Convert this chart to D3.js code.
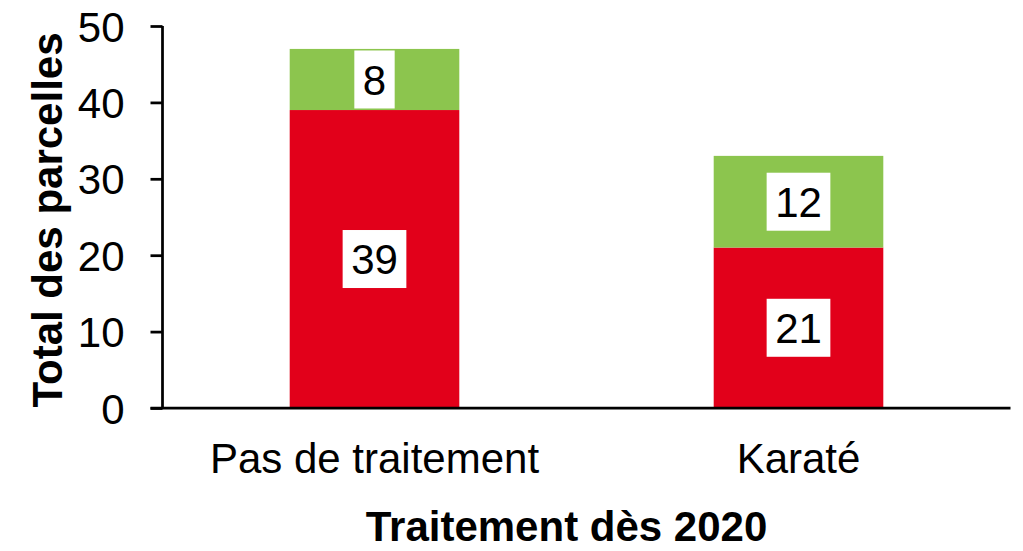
<!DOCTYPE html>
<html>
<head>
<meta charset="utf-8">
<script src="https://cdn.jsdelivr.net/npm/d3@7"></script>
<style>
  body { margin: 0; background: #fff; }
  text { font-family: "Liberation Sans", Arial, sans-serif; fill: #000; }
</style>
</head>
<body>
<script>
const categories = ['Pas de traitement', 'Karaté'];
const seriesNames = ['Rouge', 'Vert'];
const redValues = [39, 21];
const greenValues = [8, 12];
const yTicks = [0, 10, 20, 30, 40, 50];
const colors = ['#e2001a', '#8cc54e'];

const width = 1023, height = 551;
const mLeft = 162.5, mRight = 1010.5, mTop = 26, mBottom = 408;

const svg = d3.select('body')
  .append('svg')
  .attr('width', width)
  .attr('height', height);

const rows = categories.map((c, i) => ({ cat: c, Rouge: redValues[i], Vert: greenValues[i] }));
const stacked = d3.stack().keys(seriesNames)(rows);

const x = d3.scaleBand()
  .domain(categories)
  .range([mLeft, mRight])
  .paddingInner(0.6)
  .paddingOuter(0.3);

const y = d3.scaleLinear()
  .domain([0, 50])
  .range([mBottom, mTop]);

// bars
const layers = svg.selectAll('g.layer')
  .data(stacked)
  .enter().append('g')
  .attr('class', 'layer')
  .style('fill', (d, i) => colors[i]);

layers.selectAll('rect')
  .data(d => d)
  .enter().append('rect')
  .attr('x', d => x(d.data.cat))
  .attr('y', d => y(d[1]))
  .attr('width', x.bandwidth())
  .attr('height', d => y(d[0]) - y(d[1]));

// value labels in white boxes
const labelSize = 42;
stacked.forEach(layer => {
  layer.forEach(d => {
    const val = d[1] - d[0];
    const cx = x(d.data.cat) + x.bandwidth() / 2;
    const cy = (y(d[0]) + y(d[1])) / 2;
    const g = svg.append('g');
    const t = g.append('text')
      .attr('x', cx)
      .attr('y', cy + labelSize * 0.36)
      .attr('text-anchor', 'middle')
      .style('font-size', labelSize + 'px')
      .text(val);
    const w = t.node().getComputedTextLength() + 17;
    g.insert('rect', 'text')
      .attr('x', cx - w / 2)
      .attr('y', cy - 29)
      .attr('width', w)
      .attr('height', 58)
      .style('fill', '#fff');
  });
});

// y axis
const yAxis = svg.append('g')
  .attr('transform', `translate(${mLeft},0)`)
  .call(d3.axisLeft(y).tickValues(yTicks).tickSize(12).tickPadding(26));
yAxis.select('.domain').attr('d', `M0,${mTop}V${mBottom}`);
yAxis.selectAll('line, path').style('stroke', '#000').style('stroke-width', 2.75);
yAxis.selectAll('text')
  .style('font-size', '42px')
  .style('font-family', '"Liberation Sans", Arial, sans-serif')
  .attr('dy', '0.36em');

// x axis
const xAxis = svg.append('g')
  .attr('transform', `translate(0,${mBottom})`)
  .call(d3.axisBottom(x).tickSize(0).tickPadding(0));
xAxis.select('.domain').attr('d', `M${mLeft - 12},0H${mRight}`)
  .style('stroke', '#000').style('stroke-width', 2.75);
xAxis.selectAll('text')
  .attr('y', 65)
  .attr('dy', 0)
  .style('font-size', '42px')
  .style('font-family', '"Liberation Sans", Arial, sans-serif');

// titles
svg.append('text')
  .attr('x', (mLeft + mRight) / 2 - 20)
  .attr('y', 541)
  .attr('text-anchor', 'middle')
  .style('font-size', '42px')
  .style('font-weight', 'bold')
  .text('Traitement dès 2020');

svg.append('text')
  .attr('transform', 'translate(62,220) rotate(-90)')
  .attr('text-anchor', 'middle')
  .style('font-size', '42px')
  .style('font-weight', 'bold')
  .text('Total des parcelles');
</script>
</body>
</html>
